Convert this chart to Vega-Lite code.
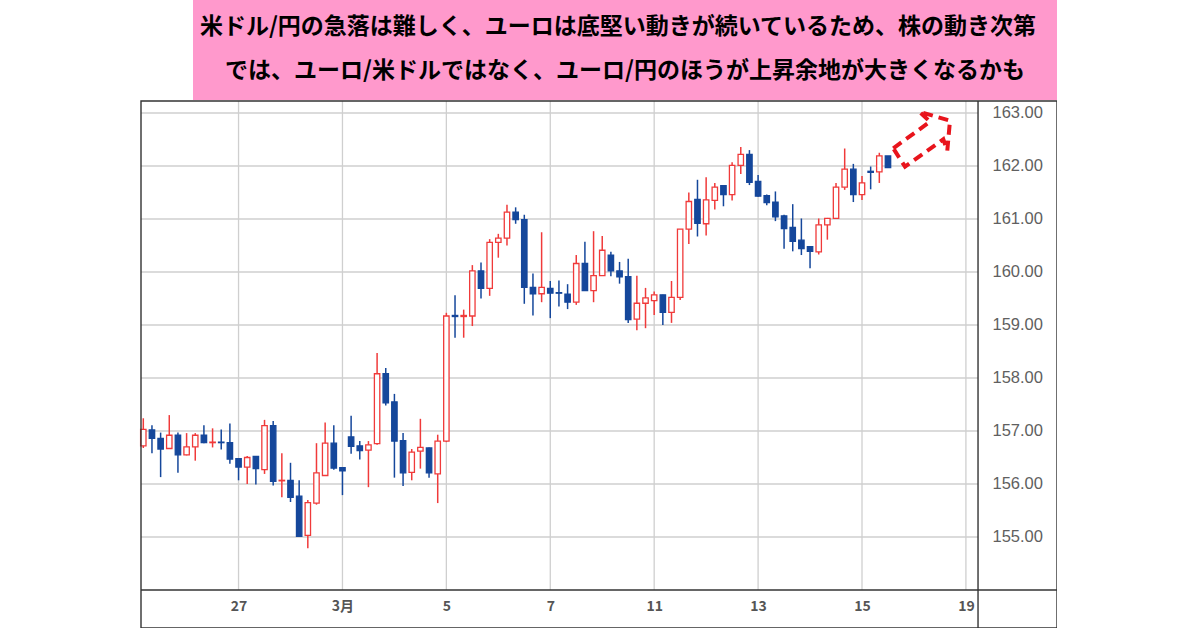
{
  "$schema": "https://vega.github.io/schema/vega-lite/v6.json",
  "width": 916,
  "height": 628,
  "autosize": {"type": "none"},
  "padding": {"left": 141, "top": 0, "right": 0, "bottom": 0},
  "background": "white",
  "config": {"view": {"stroke": null}, "axis": {"grid": false, "domain": false, "ticks": false}},
  "datasets": {
    "candles": [
      {"i": 1, "o": 156.72, "h": 157.24, "l": 156.68, "c": 157.03},
      {"i": 2, "o": 157.02, "h": 157.11, "l": 156.58, "c": 156.86},
      {"i": 3, "o": 156.86, "h": 156.97, "l": 156.13, "c": 156.66},
      {"i": 4, "o": 156.67, "h": 157.30, "l": 156.66, "c": 156.92},
      {"i": 5, "o": 156.92, "h": 156.97, "l": 156.21, "c": 156.55},
      {"i": 6, "o": 156.55, "h": 156.96, "l": 156.54, "c": 156.70},
      {"i": 7, "o": 156.70, "h": 156.96, "l": 156.44, "c": 156.92},
      {"i": 8, "o": 156.92, "h": 157.11, "l": 156.77, "c": 156.78},
      {"i": 9, "o": 156.78, "h": 157.05, "l": 156.69, "c": 156.79},
      {"i": 10, "o": 156.79, "h": 157.03, "l": 156.65, "c": 156.78},
      {"i": 11, "o": 156.78, "h": 157.14, "l": 156.38, "c": 156.47},
      {"i": 12, "o": 156.48, "h": 156.49, "l": 156.07, "c": 156.32},
      {"i": 13, "o": 156.32, "h": 156.53, "l": 156.00, "c": 156.50},
      {"i": 14, "o": 156.52, "h": 156.53, "l": 155.99, "c": 156.29},
      {"i": 15, "o": 156.27, "h": 157.21, "l": 156.19, "c": 157.10},
      {"i": 16, "o": 157.10, "h": 157.19, "l": 155.97, "c": 156.05},
      {"i": 17, "o": 156.06, "h": 156.58, "l": 155.75, "c": 156.07},
      {"i": 18, "o": 156.07, "h": 156.40, "l": 155.66, "c": 155.75},
      {"i": 19, "o": 155.77, "h": 156.07, "l": 155.00, "c": 155.01},
      {"i": 20, "o": 155.03, "h": 155.70, "l": 154.79, "c": 155.65},
      {"i": 21, "o": 155.64, "h": 156.77, "l": 155.61, "c": 156.21},
      {"i": 22, "o": 156.16, "h": 157.16, "l": 156.16, "c": 156.77},
      {"i": 23, "o": 156.77, "h": 157.11, "l": 156.27, "c": 156.30},
      {"i": 24, "o": 156.31, "h": 156.31, "l": 155.79, "c": 156.25},
      {"i": 25, "o": 156.89, "h": 157.29, "l": 156.57, "c": 156.71},
      {"i": 26, "o": 156.72, "h": 156.81, "l": 156.46, "c": 156.63},
      {"i": 27, "o": 156.64, "h": 156.81, "l": 155.94, "c": 156.74},
      {"i": 28, "o": 156.76, "h": 158.47, "l": 156.74, "c": 158.08},
      {"i": 29, "o": 158.08, "h": 158.19, "l": 157.48, "c": 157.53},
      {"i": 30, "o": 157.55, "h": 157.70, "l": 156.12, "c": 156.81},
      {"i": 31, "o": 156.82, "h": 156.96, "l": 155.96, "c": 156.21},
      {"i": 32, "o": 156.22, "h": 156.66, "l": 156.07, "c": 156.60},
      {"i": 33, "o": 156.62, "h": 157.23, "l": 156.29, "c": 156.69},
      {"i": 34, "o": 156.68, "h": 156.69, "l": 156.12, "c": 156.21},
      {"i": 35, "o": 156.19, "h": 156.93, "l": 155.64, "c": 156.81},
      {"i": 36, "o": 156.81, "h": 159.23, "l": 156.79, "c": 159.17},
      {"i": 37, "o": 159.18, "h": 159.56, "l": 158.76, "c": 159.16},
      {"i": 38, "o": 159.16, "h": 159.29, "l": 158.76, "c": 159.18},
      {"i": 39, "o": 159.17, "h": 160.13, "l": 158.98, "c": 160.02},
      {"i": 40, "o": 160.02, "h": 160.18, "l": 159.50, "c": 159.69},
      {"i": 41, "o": 159.69, "h": 160.62, "l": 159.55, "c": 160.56},
      {"i": 42, "o": 160.56, "h": 160.72, "l": 160.27, "c": 160.64},
      {"i": 43, "o": 160.64, "h": 161.27, "l": 160.50, "c": 161.13},
      {"i": 44, "o": 161.13, "h": 161.22, "l": 160.91, "c": 160.99},
      {"i": 45, "o": 160.99, "h": 161.08, "l": 159.40, "c": 159.71},
      {"i": 46, "o": 159.71, "h": 159.97, "l": 159.18, "c": 159.59},
      {"i": 47, "o": 159.59, "h": 160.75, "l": 159.43, "c": 159.71},
      {"i": 48, "o": 159.69, "h": 159.83, "l": 159.13, "c": 159.60},
      {"i": 49, "o": 159.61, "h": 159.84, "l": 159.35, "c": 159.60},
      {"i": 50, "o": 159.58, "h": 159.77, "l": 159.30, "c": 159.43},
      {"i": 51, "o": 159.43, "h": 160.32, "l": 159.38, "c": 160.16},
      {"i": 52, "o": 160.16, "h": 160.57, "l": 159.64, "c": 159.65},
      {"i": 53, "o": 159.65, "h": 160.77, "l": 159.43, "c": 159.93},
      {"i": 54, "o": 159.93, "h": 160.68, "l": 159.93, "c": 160.41},
      {"i": 55, "o": 160.32, "h": 160.38, "l": 159.92, "c": 160.02},
      {"i": 56, "o": 160.02, "h": 160.19, "l": 159.78, "c": 159.91},
      {"i": 57, "o": 159.91, "h": 160.25, "l": 159.04, "c": 159.10},
      {"i": 58, "o": 159.11, "h": 159.93, "l": 158.90, "c": 159.41},
      {"i": 59, "o": 159.41, "h": 159.70, "l": 158.94, "c": 159.51},
      {"i": 60, "o": 159.46, "h": 159.63, "l": 159.19, "c": 159.57},
      {"i": 61, "o": 159.57, "h": 159.57, "l": 159.00, "c": 159.24},
      {"i": 62, "o": 159.24, "h": 159.83, "l": 159.04, "c": 159.52},
      {"i": 63, "o": 159.52, "h": 160.81, "l": 159.47, "c": 160.81},
      {"i": 64, "o": 160.81, "h": 161.50, "l": 160.53, "c": 161.33},
      {"i": 65, "o": 161.37, "h": 161.74, "l": 160.67, "c": 160.92},
      {"i": 66, "o": 160.91, "h": 161.79, "l": 160.69, "c": 161.36},
      {"i": 67, "o": 161.35, "h": 161.68, "l": 161.18, "c": 161.60},
      {"i": 68, "o": 161.63, "h": 161.63, "l": 161.24, "c": 161.46},
      {"i": 69, "o": 161.46, "h": 162.07, "l": 161.35, "c": 162.01},
      {"i": 70, "o": 162.01, "h": 162.36, "l": 161.85, "c": 162.22},
      {"i": 71, "o": 162.22, "h": 162.30, "l": 161.64, "c": 161.69},
      {"i": 72, "o": 161.71, "h": 161.83, "l": 161.42, "c": 161.43},
      {"i": 73, "o": 161.44, "h": 161.46, "l": 161.26, "c": 161.31},
      {"i": 74, "o": 161.32, "h": 161.52, "l": 160.96, "c": 161.04},
      {"i": 75, "o": 161.06, "h": 161.08, "l": 160.44, "c": 160.82},
      {"i": 76, "o": 160.84, "h": 161.28, "l": 160.39, "c": 160.58},
      {"i": 77, "o": 160.60, "h": 161.01, "l": 160.32, "c": 160.44},
      {"i": 78, "o": 160.48, "h": 160.49, "l": 160.07, "c": 160.39},
      {"i": 79, "o": 160.38, "h": 161.01, "l": 160.33, "c": 160.89},
      {"i": 80, "o": 160.89, "h": 161.02, "l": 160.61, "c": 161.01},
      {"i": 81, "o": 161.01, "h": 161.68, "l": 161.00, "c": 161.60},
      {"i": 82, "o": 161.60, "h": 162.33, "l": 161.55, "c": 161.94},
      {"i": 83, "o": 161.94, "h": 162.04, "l": 161.32, "c": 161.46},
      {"i": 84, "o": 161.46, "h": 161.81, "l": 161.36, "c": 161.68},
      {"i": 85, "o": 161.90, "h": 161.99, "l": 161.56, "c": 161.88},
      {"i": 86, "o": 161.89, "h": 162.25, "l": 161.68, "c": 162.19},
      {"i": 87, "o": 162.19, "h": 162.19, "l": 161.97, "c": 161.97}
    ],
    "gx": [{"i": 12}, {"i": 24}, {"i": 36}, {"i": 48}, {"i": 60}, {"i": 72}, {"i": 84}, {"i": 96}],
    "gy": [{"p": 155}, {"p": 156}, {"p": 157}, {"p": 158}, {"p": 159}, {"p": 160}, {"p": 161}, {"p": 162}, {"p": 163}],
    "arrow": [
      {"k": 1, "i": 87.61, "p": 162.334},
      {"k": 2, "i": 91.85, "p": 162.836},
      {"k": 3, "i": 90.62, "p": 163.025},
      {"k": 4, "i": 94.16, "p": 162.855},
      {"k": 5, "i": 93.85, "p": 162.289},
      {"k": 6, "i": 93.39, "p": 162.504},
      {"k": 7, "i": 88.97, "p": 161.987},
      {"k": 8, "i": 87.61, "p": 162.334}
    ]
  },
  "layer": [
    {
      "data": {"values": [{}]},
      "mark": {"type": "rect", "fill": "#ff99cc"},
      "encoding": {
        "x": {"datum": 6.74},
        "x2": {"datum": 106.52},
        "y": {"datum": 165.132},
        "y2": {"datum": 163.245}
      }
    },
    {
      "data": {"values": [{}]},
      "mark": {"type": "text", "font": "Noto Sans CJK JP", "fontSize": 23, "fontWeight": "bold", "color": "black", "align": "center", "baseline": "middle"},
      "encoding": {
        "x": {"datum": 55.82},
        "y": {"datum": 164.623},
        "text": {"value": "米ドル/円の急落は難しく、ユーロは底堅い動きが続いているため、株の動き次第"}
      }
    },
    {
      "data": {"values": [{}]},
      "mark": {"type": "text", "font": "Noto Sans CJK JP", "fontSize": 23, "fontWeight": "bold", "color": "black", "align": "center", "baseline": "middle"},
      "encoding": {
        "x": {"datum": 56.63},
        "y": {"datum": 163.8},
        "text": {"value": "では、ユーロ/米ドルではなく、ユーロ/円のほうが上昇余地が大きくなるかも"}
      }
    },
    {
      "data": {"name": "gy"},
      "mark": {"type": "rule", "color": "#cfcfcf", "strokeWidth": 1.3},
      "encoding": {
        "x": {"datum": 0.734},
        "x2": {"datum": 97.4},
        "y": {"field": "p", "type": "quantitative", "title": null, "scale": {"domain": [153.283, 165.132], "nice": false, "zero": false}}
      }
    },
    {
      "data": {"name": "gx"},
      "mark": {"type": "rule", "color": "#cfcfcf", "strokeWidth": 1.3},
      "encoding": {
        "x": {"field": "i", "type": "quantitative", "title": null, "scale": {"domain": [0.734, 106.52], "nice": false, "zero": false, "padding": 0}},
        "y": {"datum": 163.226},
        "y2": {"datum": 154.0}
      }
    },
    {
      "data": {"name": "candles"},
      "mark": {"type": "rule", "strokeWidth": 1.5},
      "encoding": {
        "x": {"field": "i", "type": "quantitative", "title": null, "scale": {"domain": [0.734, 106.52], "nice": false, "zero": false, "padding": 0}},
        "y": {"field": "l", "type": "quantitative", "title": null, "scale": {"domain": [153.283, 165.132], "nice": false, "zero": false}},
        "y2": {"field": "h"},
        "color": {"condition": {"test": "datum.c >= datum.o", "value": "#f03a3a"}, "value": "#15479b"}
      }
    },
    {
      "data": {"name": "candles"},
      "mark": {"type": "bar", "width": 5.4, "strokeWidth": 1.3},
      "encoding": {
        "x": {
          "field": "i", "type": "quantitative", "title": null,
          "scale": {"domain": [0.734, 106.52], "nice": false, "zero": false, "padding": 0},
          "axis": {
            "orient": "bottom", "offset": -38,
            "values": [12, 24, 36, 48, 60, 72, 84, 96],
            "labelExpr": "['27','3月','5','7','11','13','15','19'][datum.value / 12 - 1]",
            "labelFlush": false,
            "labelFont": "Noto Sans CJK JP", "labelFontSize": 14, "labelFontWeight": 600, "labelColor": "#555", "labelPadding": 9
          }
        },
        "y": {
          "field": "o", "type": "quantitative", "title": null,
          "scale": {"domain": [153.283, 165.132], "nice": false, "zero": false},
          "axis": {
            "orient": "right", "offset": -79,
            "values": [155, 156, 157, 158, 159, 160, 161, 162, 163],
            "format": ".2f", "labelFlush": false,
            "labelAlign": "left", "labelBaseline": "middle", "labelPadding": 14,
            "labelFont": "Liberation Sans", "labelFontSize": 16.5, "labelColor": "#606060"
          }
        },
        "y2": {"field": "c"},
        "fill": {"condition": {"test": "datum.c >= datum.o", "value": "white"}, "value": "#15479b"},
        "stroke": {"condition": {"test": "datum.c >= datum.o", "value": "#f03a3a"}, "value": "#15479b"}
      }
    },
    {
      "data": {"name": "arrow"},
      "mark": {"type": "line", "color": "#e8141c", "strokeWidth": 4, "strokeDash": [10, 6]},
      "encoding": {
        "x": {"field": "i", "type": "quantitative", "title": null, "scale": {"domain": [0.734, 106.52], "nice": false, "zero": false, "padding": 0}},
        "y": {"field": "p", "type": "quantitative", "title": null, "scale": {"domain": [153.283, 165.132], "nice": false, "zero": false}},
        "order": {"field": "k"}
      }
    },
    {
      "data": {"values": [{}]},
      "mark": {"type": "rect", "fillOpacity": 0, "stroke": "#333", "strokeWidth": 1.4},
      "encoding": {
        "x": {"datum": 0.734},
        "x2": {"datum": 106.52},
        "y": {"datum": 163.226},
        "y2": {"datum": 153.283}
      }
    },
    {
      "data": {"values": [{}]},
      "mark": {"type": "rule", "color": "#333", "strokeWidth": 1.4},
      "encoding": {
        "x": {"datum": 97.4},
        "y": {"datum": 163.226},
        "y2": {"datum": 153.283}
      }
    },
    {
      "data": {"values": [{}]},
      "mark": {"type": "rule", "color": "#333", "strokeWidth": 1.4},
      "encoding": {
        "x": {"datum": 0.734},
        "x2": {"datum": 106.52},
        "y": {"datum": 154.0}
      }
    }
  ]
}
